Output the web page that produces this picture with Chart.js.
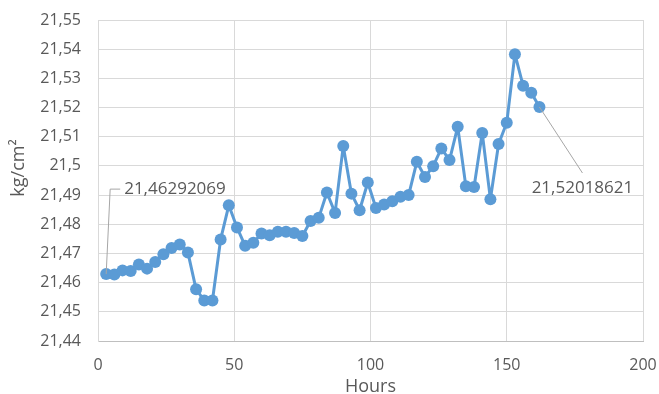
<!DOCTYPE html>
<html>
<head>
<meta charset="utf-8">
<style>
  html, body { margin: 0; padding: 0; background: #fff; }
  #wrap { width: 659px; height: 394px; }
</style>
<script src="https://cdn.jsdelivr.net/npm/chart.js@4/dist/chart.umd.min.js"></script>
</head>
<body>
<div id="wrap"><canvas id="chart" width="659" height="394"></canvas></div>
<script>
// pressure readings, one every 3 hours
var hours = [3, 6, 9, 12, 15, 18, 21, 24, 27, 30, 33, 36, 39, 42, 45, 48, 51, 54,
  57, 60, 63, 66, 69, 72, 75, 78, 81, 84, 87, 90, 93, 96, 99, 102, 105, 108,
  111, 114, 117, 120, 123, 126, 129, 132, 135, 138, 141, 144, 147, 150, 153, 156, 159, 162];
var pressure = [21.46292069, 21.4628, 21.4642, 21.4640, 21.4662, 21.4648, 21.4671, 21.4697,
  21.4719, 21.4731, 21.4703, 21.4577, 21.4539, 21.4539, 21.4748, 21.4865, 21.4789, 21.4726,
  21.4737, 21.4768, 21.4762, 21.4774, 21.4774, 21.4770, 21.4760, 21.4811, 21.4822, 21.4909,
  21.4839, 21.5068, 21.4905, 21.4848, 21.4943, 21.4856, 21.4868, 21.4879, 21.4894, 21.4900,
  21.5014, 21.4962, 21.4999, 21.5060, 21.5020, 21.5134, 21.4930, 21.4928, 21.5113, 21.4886,
  21.5075, 21.5148, 21.5383, 21.5275, 21.5251, 21.52018621];
var firstLabel = '21,46292069';
var lastLabel = '21,52018621';

var points = hours.map(function (h, i) { return { x: h, y: pressure[i] }; });

var font = "'Open Sans', sans-serif";
var textColor = '#595959';
var gridColor = '#d9d9d9';

function commaNum(v) {
  return String(Math.round(v * 100) / 100).replace('.', ',');
}

// labels stick out past the plot; the layout padding already leaves room
function noOverflow(scale) {
  scale.paddingTop = 0;
  scale.paddingBottom = 0;
  scale.paddingLeft = 0;
  scale.paddingRight = 0;
}

// data labels for first/last point plus the y axis title
var extrasPlugin = {
  id: 'extras',
  afterDraw: function (chart) {
    var ctx = chart.ctx;
    var meta = chart.getDatasetMeta(0);
    var p0 = meta.data[0];
    var pN = meta.data[meta.data.length - 1];

    ctx.save();
    ctx.strokeStyle = '#a6a6a6';
    ctx.lineWidth = 1;
    ctx.beginPath();
    ctx.moveTo(p0.x, p0.y);
    ctx.lineTo(p0.x + 4, p0.y - 85);
    ctx.lineTo(p0.x + 14, p0.y - 85);
    ctx.stroke();
    ctx.beginPath();
    ctx.moveTo(pN.x, pN.y);
    ctx.lineTo(pN.x + 43, pN.y + 66);
    ctx.stroke();

    ctx.fillStyle = textColor;
    ctx.font = '17px ' + font;
    ctx.textBaseline = 'middle';
    ctx.textAlign = 'left';
    ctx.fillText(firstLabel, p0.x + 18, p0.y - 85);
    ctx.textAlign = 'center';
    ctx.fillText(lastLabel, pN.x + 43, pN.y + 81);

    ctx.translate(19, 168);
    ctx.rotate(-Math.PI / 2);
    ctx.font = '18px ' + font;
    ctx.fillText('kg/cm\u00b2', 0, 0);
    ctx.restore();
  }
};

new Chart(document.getElementById('chart'), {
  type: 'line',
  data: {
    datasets: [{
      data: points,
      borderColor: '#5b9bd5',
      backgroundColor: '#5b9bd5',
      borderWidth: 3,
      borderJoinStyle: 'round',
      borderCapStyle: 'round',
      pointRadius: 6,
      pointBorderWidth: 0,
      tension: 0
    }]
  },
  options: {
    responsive: false,
    animation: false,
    layout: { padding: { top: 20, right: 16, left: 0, bottom: 0 } },
    plugins: { legend: { display: false }, tooltip: { enabled: false } },
    scales: {
      x: {
        type: 'linear',
        min: 0,
        max: 200,
        ticks: { stepSize: 50, padding: 15, color: textColor, font: { family: font, size: 16 } },
        grid: { color: gridColor, drawTicks: false },
        border: { color: '#bfbfbf' },
        title: { display: true, text: 'Hours', color: textColor, font: { family: font, size: 18 }, padding: { top: 0, bottom: -4 } },
        afterFit: function (scale) { scale.height = 53; noOverflow(scale); }
      },
      y: {
        min: 21.44,
        max: 21.55,
        ticks: {
          stepSize: 0.01,
          padding: 17,
          color: textColor,
          font: { family: font, size: 16 },
          callback: function (v) { return commaNum(v); }
        },
        grid: { color: gridColor, drawTicks: false },
        border: { color: gridColor },
        afterFit: function (scale) { scale.width = 98; noOverflow(scale); }
      }
    }
  },
  plugins: [extrasPlugin]
});
</script>
</body>
</html>
